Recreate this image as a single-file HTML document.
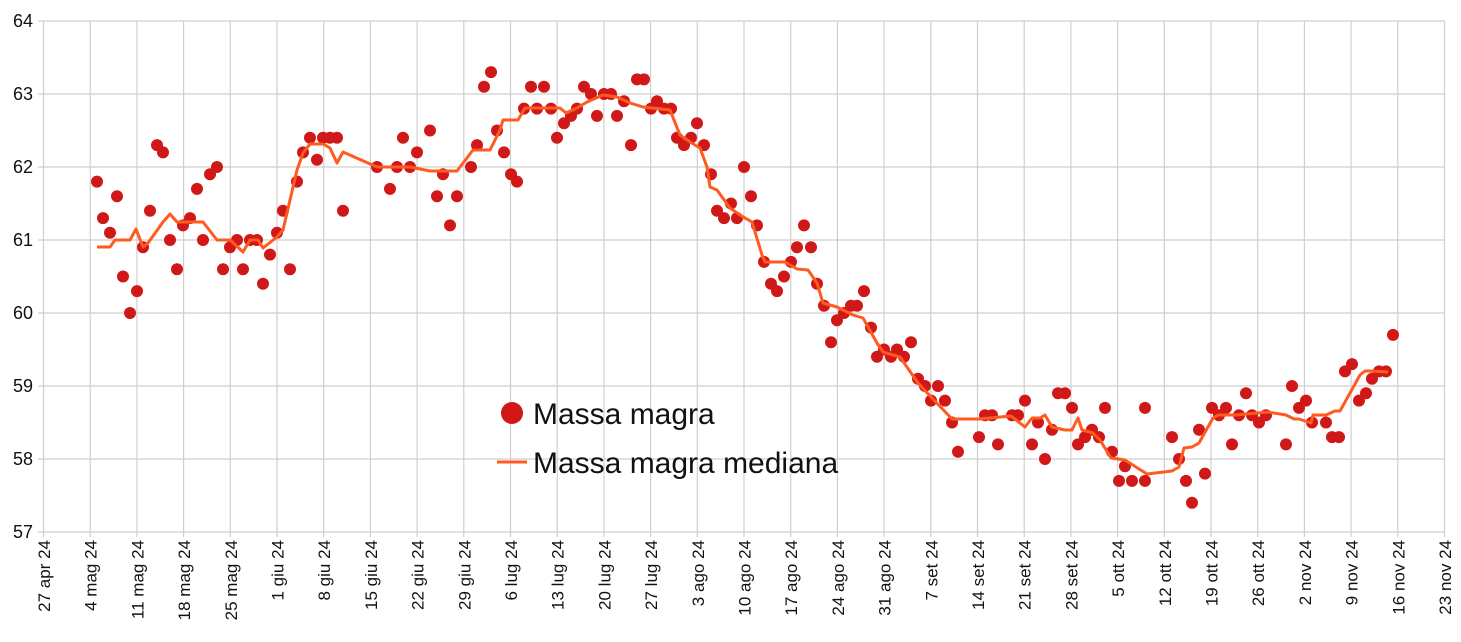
<!DOCTYPE html>
<html><head><meta charset="utf-8"><style>
html,body{margin:0;padding:0;background:#fff;}
svg{display:block;font-family:"Liberation Sans",Arial,sans-serif;}
</style></head><body>
<svg id="c" width="1461" height="642" viewBox="0 0 1461 642" xmlns="http://www.w3.org/2000/svg">
<g id="grid" stroke="#cfcfcf" stroke-width="1.2"></g>
<g font-size="18" fill="#111" text-anchor="end">
<text x="33" y="27">64</text><text x="33" y="100">63</text><text x="33" y="173">62</text><text x="33" y="246">61</text><text x="33" y="319">60</text><text x="33" y="392">59</text><text x="33" y="465">58</text><text x="33" y="538">57</text>
</g>
<g id="xl" font-size="17" fill="#111" text-anchor="end">
<text transform="translate(50,540) rotate(-90)">27 apr 24</text>
<text transform="translate(96.7,540) rotate(-90)">4 mag 24</text>
<text transform="translate(143.4,540) rotate(-90)">11 mag 24</text>
<text transform="translate(190.1,540) rotate(-90)">18 mag 24</text>
<text transform="translate(236.8,540) rotate(-90)">25 mag 24</text>
<text transform="translate(283.5,540) rotate(-90)">1 giu 24</text>
<text transform="translate(330.2,540) rotate(-90)">8 giu 24</text>
<text transform="translate(376.9,540) rotate(-90)">15 giu 24</text>
<text transform="translate(423.6,540) rotate(-90)">22 giu 24</text>
<text transform="translate(470.3,540) rotate(-90)">29 giu 24</text>
<text transform="translate(517,540) rotate(-90)">6 lug 24</text>
<text transform="translate(563.7,540) rotate(-90)">13 lug 24</text>
<text transform="translate(610.4,540) rotate(-90)">20 lug 24</text>
<text transform="translate(657.1,540) rotate(-90)">27 lug 24</text>
<text transform="translate(703.8,540) rotate(-90)">3 ago 24</text>
<text transform="translate(750.5,540) rotate(-90)">10 ago 24</text>
<text transform="translate(797.2,540) rotate(-90)">17 ago 24</text>
<text transform="translate(843.9,540) rotate(-90)">24 ago 24</text>
<text transform="translate(890.6,540) rotate(-90)">31 ago 24</text>
<text transform="translate(937.3,540) rotate(-90)">7 set 24</text>
<text transform="translate(984,540) rotate(-90)">14 set 24</text>
<text transform="translate(1030.7,540) rotate(-90)">21 set 24</text>
<text transform="translate(1077.4,540) rotate(-90)">28 set 24</text>
<text transform="translate(1124.1,540) rotate(-90)">5 ott 24</text>
<text transform="translate(1170.8,540) rotate(-90)">12 ott 24</text>
<text transform="translate(1217.5,540) rotate(-90)">19 ott 24</text>
<text transform="translate(1264.2,540) rotate(-90)">26 ott 24</text>
<text transform="translate(1310.9,540) rotate(-90)">2 nov 24</text>
<text transform="translate(1357.6,540) rotate(-90)">9 nov 24</text>
<text transform="translate(1404.3,540) rotate(-90)">16 nov 24</text>
<text transform="translate(1451,540) rotate(-90)">23 nov 24</text>
</g>
<g id="dots" fill="#d01818"></g>
<polyline id="med" fill="none" stroke="#ff5a1f" stroke-width="3" stroke-linejoin="round"></polyline>
<circle cx="512" cy="413" r="11" fill="#d01818"/>
<text x="533" y="424" font-size="30" fill="#111">Massa magra</text>
<line x1="497" y1="462" x2="527" y2="462" stroke="#ff5a1f" stroke-width="3"/>
<text x="533" y="473" font-size="30" fill="#111">Massa magra mediana</text>
</svg>
<script>
var NS="http://www.w3.org/2000/svg";
var g=document.getElementById('grid');
function ln(x1,y1,x2,y2){var l=document.createElementNS(NS,'line');l.setAttribute('x1',x1);l.setAttribute('y1',y1);l.setAttribute('x2',x2);l.setAttribute('y2',y2);g.appendChild(l);}
for(var i=0;i<=7;i++){var y=21+i*73;ln(38,y,1445,y);}
for(var k=0;k<=30;k++){var x=43.5+k*46.7;ln(x,21,x,537);}
function Y(v){return 21+(64-v)*73;}
var d=[[97,61.8],[103,61.3],[110,61.1],[117,61.6],[123,60.5],[130,60.0],[137,60.3],[143,60.9],[150,61.4],[157,62.3],[163,62.2],[170,61.0],[177,60.6],[183,61.2],[190,61.3],[197,61.7],[203,61.0],[210,61.9],[217,62.0],[223,60.6],[230,60.9],[237,61.0],[243,60.6],[250,61.0],[257,61.0],[263,60.4],[270,60.8],[277,61.1],[283,61.4],[290,60.6],[297,61.8],[303,62.2],[310,62.4],[317,62.1],[323,62.4],[330,62.4],[337,62.4],[343,61.4],[377,62.0],[390,61.7],[397,62.0],[403,62.4],[410,62.0],[417,62.2],[430,62.5],[437,61.6],[443,61.9],[450,61.2],[457,61.6],[471,62.0],[477,62.3],[484,63.1],[491,63.3],[497,62.5],[504,62.2],[511,61.9],[517,61.8],[524,62.8],[531,63.1],[537,62.8],[544,63.1],[551,62.8],[557,62.4],[564,62.6],[571,62.7],[577,62.8],[584,63.1],[591,63.0],[597,62.7],[604,63.0],[611,63.0],[617,62.7],[624,62.9],[631,62.3],[637,63.2],[644,63.2],[651,62.8],[657,62.9],[664,62.8],[671,62.8],[677,62.4],[684,62.3],[691,62.4],[697,62.6],[704,62.3],[711,61.9],[717,61.4],[724,61.3],[731,61.5],[737,61.3],[744,62.0],[751,61.6],[757,61.2],[764,60.7],[771,60.4],[777,60.3],[784,60.5],[791,60.7],[797,60.9],[804,61.2],[811,60.9],[817,60.4],[824,60.1],[831,59.6],[837,59.9],[844,60.0],[851,60.1],[857,60.1],[864,60.3],[871,59.8],[877,59.4],[884,59.5],[891,59.4],[897,59.5],[904,59.4],[911,59.6],[918,59.1],[925,59.0],[931,58.8],[938,59.0],[945,58.8],[952,58.5],[958,58.1],[979,58.3],[985,58.6],[992,58.6],[998,58.2],[1012,58.6],[1018,58.6],[1025,58.8],[1032,58.2],[1038,58.5],[1045,58.0],[1052,58.4],[1058,58.9],[1065,58.9],[1072,58.7],[1078,58.2],[1085,58.3],[1092,58.4],[1099,58.3],[1105,58.7],[1112,58.1],[1119,57.7],[1125,57.9],[1132,57.7],[1145,57.7],[1145,58.7],[1172,58.3],[1179,58.0],[1186,57.7],[1192,57.4],[1199,58.4],[1205,57.8],[1212,58.7],[1219,58.6],[1226,58.7],[1232,58.2],[1239,58.6],[1246,58.9],[1252,58.6],[1259,58.5],[1266,58.6],[1286,58.2],[1292,59.0],[1299,58.7],[1306,58.8],[1312,58.5],[1326,58.5],[1332,58.3],[1339,58.3],[1345,59.2],[1352,59.3],[1359,58.8],[1366,58.9],[1372,59.1],[1379,59.2],[1386,59.2],[1393,59.7]];
var dg=document.getElementById('dots');
d.forEach(function(p){var c=document.createElementNS(NS,'circle');c.setAttribute('cx',p[0]);c.setAttribute('cy',Y(p[1]).toFixed(1));c.setAttribute('r',6);dg.appendChild(c);});
var m=[[97,247],[110,247],[115,240],[130,240],[136,229],[143,247],[148,243],[163,222],[170,214],[177,222],[203,222],[217,240],[230,240],[243,252],[250,240],[258,240],[263,248],[277,237],[283,230],[290,200],[297,170],[303,153],[310,144],[323,144],[330,148],[337,163],[343,152],[377,167],[410,167],[430,171],[457,171],[473,150],[490,150],[500,130],[503,120],[518,120],[525,108],[560,108],[566,113],[577,108],[587,102],[603,95],[617,97],[630,103],[643,107],[670,110],[680,135],[690,142],[700,148],[707,167],[710,187],[717,190],[730,208],[740,215],[752,222],[762,255],[765,262],[785,262],[797,269],[808,270],[817,283],[823,303],[837,307],[853,315],[863,318],[877,343],[883,352],[900,357],[918,383],[932,398],[952,419],[979,419],[1011,416],[1025,427],[1032,418],[1040,418],[1045,415],[1052,427],[1065,430],[1072,430],[1078,418],[1082,430],[1093,433],[1100,440],[1111,458],[1125,460],[1147,474],[1172,471],[1179,467],[1184,448],[1192,447],[1199,443],[1213,418],[1218,415],[1236,415],[1268,412],[1286,415],[1294,419],[1299,419],[1311,423],[1313,415],[1326,415],[1335,411],[1340,411],[1360,375],[1365,371],[1372,371],[1388,372]];
document.getElementById('med').setAttribute('points',m.map(function(p){return p.join(',');}).join(' '));
</script>
</body></html>
